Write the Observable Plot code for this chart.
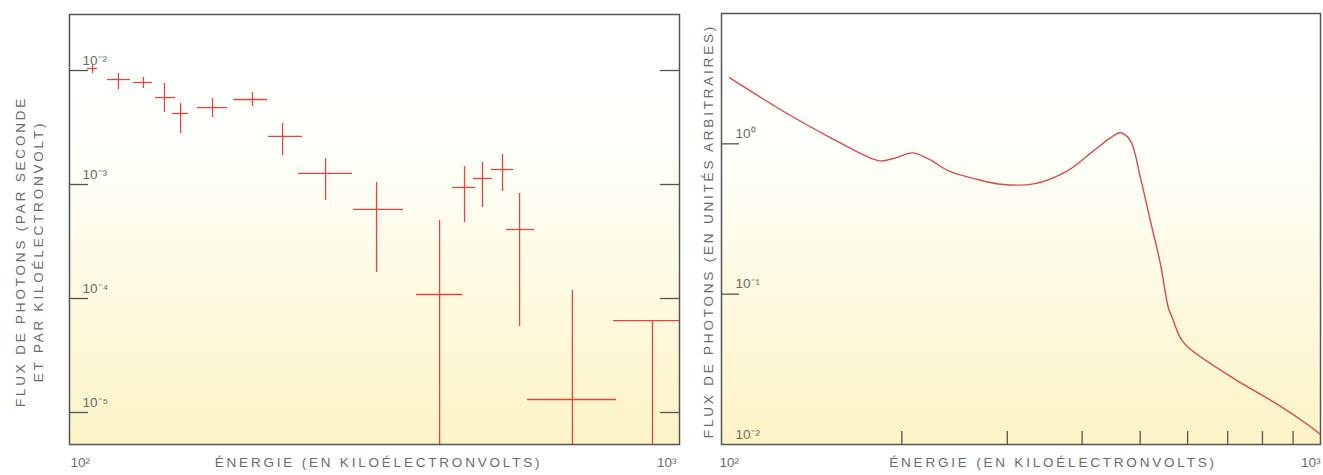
<!DOCTYPE html>
<html><head><meta charset="utf-8">
<script src="https://cdn.jsdelivr.net/npm/d3@7"></script>
<script src="https://cdn.jsdelivr.net/npm/@observablehq/plot@0.6"></script>
<style>
body{margin:0;background:#fff;}
#wrap{position:relative;width:1323px;height:475px;overflow:hidden;background:#fff;}
#left{position:absolute;left:0;top:0;}
#right{position:absolute;left:690px;top:0;}
</style></head>
<body>
<svg width="0" height="0" style="position:absolute"><defs>
<linearGradient id="bg" x1="0" y1="0" x2="0" y2="1">
<stop offset="0" stop-color="#ffffff"/><stop offset="0.3" stop-color="#fffffb"/><stop offset="1" stop-color="#fcf4c6"/>
</linearGradient></defs></svg>
<div id="wrap"><div id="left"></div><div id="right"></div></div>
<script>
// ---- Left panel: measured spectrum (energy in keV, flux in photons / s / keV)
const energy     = [109.1, 120.3, 132.2, 143.1, 152.1, 171.6, 199.5, 223.5, 262.9, 318.7, 404.3, 444.2, 475.3, 512.7, 546.8, 667.5, 903.0];
const energyLow  = [107.0, 115.4, 127.3, 138.4, 147.6, 162.1, 185.8, 212.0, 237.4, 292.2, 370.7, 424.6, 459.5, 491.8, 520.6, 563.5, 779.6];
const energyHigh = [111.1, 125.9, 136.8, 149.2, 156.7, 181.6, 211.2, 241.0, 291.0, 352.8, 441.0, 463.1, 493.6, 534.5, 578.4, 788.2, 1000];
const flux       = [0.01041, 0.00834, 0.00785, 0.00579, 0.00420, 0.00473, 0.00557, 0.00264, 0.00125, 0.000604, 0.0001084, 0.000942, 0.00113, 0.001355, 0.000403, 0.0000130, 0.0000641];
const fluxLow    = [0.00942, 0.00681, 0.00695, 0.00429, 0.00280, 0.00387, 0.00483, 0.00179, 0.000724, 0.000169, 1e-7, 0.000465, 0.000628, 0.000869, 0.0000568, 1e-7, 1e-7];
const fluxHigh   = [0.01130, 0.00942, 0.00869, 0.00769, 0.00514, 0.00568, 0.00641, 0.00343, 0.00169, 0.001042, 0.000483, 0.001439, 0.00156, 0.00183, 0.000834, 0.0001175, 0.0000641];

const leftYTicks  = [1e-2, 1e-3, 1e-4, 1e-5];
const leftYLabels = ["10⁻²", "10⁻³", "10⁻⁴", "10⁻⁵"];
const leftYDomain = [5.24e-6, 0.031];

// ---- Right panel: model spectrum (arbitrary units)
const curveEnergy = [103.1, 126.4, 153.2, 174.0, 184.2, 195.2, 208.4, 221.6, 239.3, 265.5, 290.0, 331.8, 378.1, 417.8, 446.0, 463.6, 481.7, 500.5, 520.1, 540.5, 557.4, 566.1, 583.9, 606.7, 715.8, 847.6, 951.2, 1000];
const curveFlux   = [2.754, 1.660, 1.080, 0.832, 0.770, 0.807, 0.871, 0.794, 0.661, 0.584, 0.541, 0.541, 0.661, 0.898, 1.096, 1.184, 1.047, 0.593, 0.3066, 0.1585, 0.0806, 0.0692, 0.0509, 0.0430, 0.02754, 0.01848, 0.01359, 0.01166];

const rightYTicks   = [1, 0.1];
const rightYLabelTicks = [1, 0.1, 0.01];
const rightYLabels  = ["10⁰", "10⁻¹", "10⁻²"];
const rightYDomain  = [0.01, 7.36];
const rightXMinor   = [200, 300, 400, 500, 600, 700, 800, 900];

const xDomain = [100, 1000];
const xTicks  = [100, 1000];
const xLabels = ["10²", "10³"];

const xTitle = "ÉNERGIE (EN KILOÉLECTRONVOLTS)";
const leftYTitle = "FLUX DE PHOTONS (PAR SECONDE\nET PAR KILOÉLECTRONVOLT)";
const rightYTitle = "FLUX DE PHOTONS (EN UNITÉS ARBITRAIRES)";

const red = "#e4463e";
const curveRed = "#dc4a44";
const axisCol = "#555";
const textCol = "#6b6b6b";
const font = "'Liberation Sans', Arial, Helvetica, sans-serif";

const points = energy.map((e, i) => ({energy: e, eLow: energyLow[i], eHigh: energyHigh[i], flux: flux[i], fLow: fluxLow[i], fHigh: fluxHigh[i]}));
const curve = curveEnergy.map((e, i) => ({energy: e, flux: curveFlux[i]}));

const leftPlot = Plot.plot({
  width: 690, height: 475,
  marginLeft: 69, marginRight: 11, marginTop: 14, marginBottom: 31,
  style: {background: "transparent", fontFamily: font, fontSize: "13px", color: textCol, overflow: "visible"},
  x: {type: "log", domain: xDomain, axis: null},
  y: {type: "log", domain: leftYDomain, axis: null},
  marks: [
    Plot.frame({fill: "url(#bg)"}),
    Plot.ruleY(points, {y: "flux", x1: "eLow", x2: "eHigh", stroke: red, strokeWidth: 1.3, clip: true}),
    Plot.ruleX(points, {x: "energy", y1: "fLow", y2: "fHigh", stroke: red, strokeWidth: 1.3, clip: true}),
    Plot.tickY(leftYTicks, {y: d => d, insetRight: 591, stroke: axisCol, strokeWidth: 1.3}),
    Plot.tickY(leftYTicks, {y: d => d, insetLeft: 591, stroke: axisCol, strokeWidth: 1.3}),
    Plot.text(leftYTicks, {y: d => d, text: (d, i) => leftYLabels[i], frameAnchor: "left", textAnchor: "start", lineAnchor: "middle", dx: 13, dy: -10, fill: textCol, fontSize: 13.5}),
    Plot.text([xTicks[0]], {x: d => d, text: () => xLabels[0], frameAnchor: "bottom", textAnchor: "start", lineAnchor: "middle", dx: 1, dy: 18, fill: textCol, fontSize: 13.5}),
    Plot.text([xTicks[1]], {x: d => d, text: () => xLabels[1], frameAnchor: "bottom", textAnchor: "end", lineAnchor: "middle", dx: -3, dy: 18, fill: textCol, fontSize: 13.5}),
    Plot.text([xTitle], {text: d => d, frameAnchor: "bottom", textAnchor: "middle", lineAnchor: "middle", dx: 4, dy: 18, fill: textCol, fontSize: 13.5}),
    Plot.text([leftYTitle], {text: d => d, frameAnchor: "left", textAnchor: "middle", lineAnchor: "middle", rotate: -90, dx: -41, dy: 22, lineHeight: 1.33, fill: textCol, fontSize: 13.5}),
    Plot.frame({stroke: axisCol, strokeWidth: 1.5})
  ]
});

const rightPlot = Plot.plot({
  width: 633, height: 475,
  marginLeft: 31, marginRight: 3, marginTop: 13, marginBottom: 31,
  style: {background: "transparent", fontFamily: font, fontSize: "13px", color: textCol, overflow: "visible"},
  x: {type: "log", domain: xDomain, axis: null},
  y: {type: "log", domain: rightYDomain, axis: null},
  marks: [
    Plot.frame({fill: "url(#bg)"}),
    Plot.line(curve, {x: "energy", y: "flux", curve: "catmull-rom", stroke: curveRed, strokeWidth: 1.4, clip: true}),
    Plot.tickY(rightYTicks, {y: d => d, insetRight: 581, stroke: axisCol, strokeWidth: 1.3}),
    Plot.tickX(rightXMinor, {x: d => d, insetTop: 418, stroke: axisCol, strokeWidth: 1.3}),
    Plot.text(rightYLabelTicks, {y: d => d, text: (d, i) => rightYLabels[i], frameAnchor: "left", textAnchor: "start", lineAnchor: "middle", dx: 14, dy: -10, fill: textCol, fontSize: 13.5}),
    Plot.text([xTicks[0]], {x: d => d, text: () => xLabels[0], frameAnchor: "bottom", textAnchor: "start", lineAnchor: "middle", dx: -2, dy: 18, fill: textCol, fontSize: 13.5}),
    Plot.text([xTicks[1]], {x: d => d, text: () => xLabels[1], frameAnchor: "bottom", textAnchor: "end", lineAnchor: "middle", dx: 0, dy: 18, fill: textCol, fontSize: 13.5}),
    Plot.text([xTitle], {text: d => d, frameAnchor: "bottom", textAnchor: "middle", lineAnchor: "middle", dx: 32, dy: 18, fill: textCol, fontSize: 13.5}),
    Plot.text([rightYTitle], {text: d => d, frameAnchor: "left", textAnchor: "middle", lineAnchor: "middle", rotate: -90, dx: -13, dy: 2, fill: textCol, fontSize: 13.5}),
    Plot.frame({stroke: axisCol, strokeWidth: 1.5})
  ]
});

document.getElementById("left").appendChild(leftPlot);
document.getElementById("right").appendChild(rightPlot);

// widen tracking of the axis titles, as in the original typesetting
for (const svg of [leftPlot, rightPlot]) {
  d3.select(svg).selectAll("text").each(function() {
    const t = this.textContent;
    if (t.includes("ÉNERGIE") || t.includes("FLUX") || t.includes("KILO")) {
      d3.select(this).style("letter-spacing", "2.8px");
    }
  });
}
</script>
</body></html>
